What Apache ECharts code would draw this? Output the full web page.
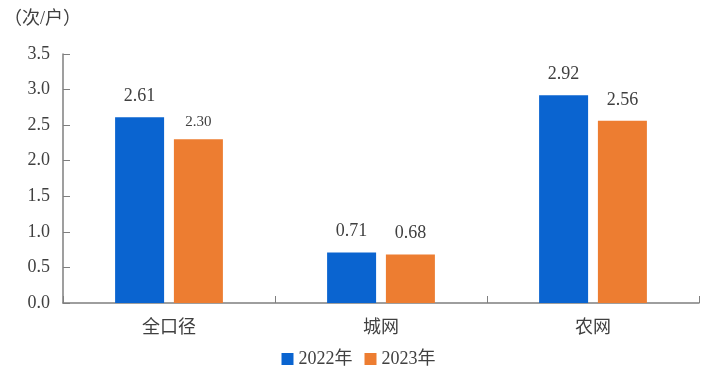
<!DOCTYPE html>
<html><head><meta charset="utf-8">
<script src="https://cdn.jsdelivr.net/npm/echarts@6/dist/echarts.min.js"></script>
<style>html,body{margin:0;padding:0;background:#fff}#c{width:717px;height:373px}</style>
</head><body><div id="c"></div>
<script>
const categories = ['全口径', '城网', '农网'];
const seriesNames = ['2022年', '2023年'];
const values2022 = [2.61, 0.71, 2.92];
const values2023 = [2.30, 0.68, 2.56];
const yTicks = [0, 0.5, 1.0, 1.5, 2.0, 2.5, 3.0, 3.5];
const unitLabel = '（次/户）';

const serif = '"Times New Roman", "Liberation Serif", "Noto Sans CJK SC", serif';
const chart = echarts.init(document.getElementById('c'));
chart.setOption({
  animation: false,
  textStyle: { fontFamily: serif },
  graphic: [{
    type: 'text', left: 4, top: 10,
    style: { text: unitLabel, fontSize: 18, fill: '#404040', fontFamily: serif }
  }],
  legend: {
    bottom: 0, left: 'center', itemWidth: 12, itemHeight: 12, itemGap: 12,
    icon: 'rect',
    textStyle: { fontSize: 18, color: '#404040', fontFamily: serif },
    data: seriesNames
  },
  grid: { left: 63, right: 18, top: 54, bottom: 70, containLabel: false },
  xAxis: {
    type: 'category', data: categories,
    axisLine: { lineStyle: { color: '#7f7f7f', width: 1.5 } },
    axisTick: { show: true, inside: true, length: 7, lineStyle: { color: '#7f7f7f' } },
    axisLabel: { fontSize: 18, color: '#404040', margin: 16, fontFamily: serif }
  },
  yAxis: {
    type: 'value', min: yTicks[0], max: yTicks[yTicks.length - 1], interval: 0.5,
    splitLine: { show: false },
    axisLine: { show: true, lineStyle: { color: '#7f7f7f', width: 1.5 } },
    axisTick: { show: true, inside: true, length: 7, lineStyle: { color: '#7f7f7f' } },
    axisLabel: { fontSize: 18, color: '#404040', margin: 13, fontFamily: serif,
      formatter: v => v.toFixed(1) }
  },
  series: [
    {
      name: seriesNames[0], type: 'bar', data: values2022,
      barWidth: 49, barGap: '20%',
      itemStyle: { color: '#0A64D0' },
      label: { show: true, position: 'top', distance: 12, fontSize: 18, color: '#404040',
        fontFamily: serif, formatter: p => p.value.toFixed(2) }
    },
    {
      name: seriesNames[1], type: 'bar',
      data: values2023.map((v, i) => i === 0
        ? { value: v, label: { fontSize: 15, distance: 10 } }
        : v),
      barWidth: 49,
      itemStyle: { color: '#ED7D31' },
      label: { show: true, position: 'top', distance: 12, fontSize: 18, color: '#404040',
        fontFamily: serif, formatter: p => p.value.toFixed(2) }
    }
  ]
});
</script></body></html>
